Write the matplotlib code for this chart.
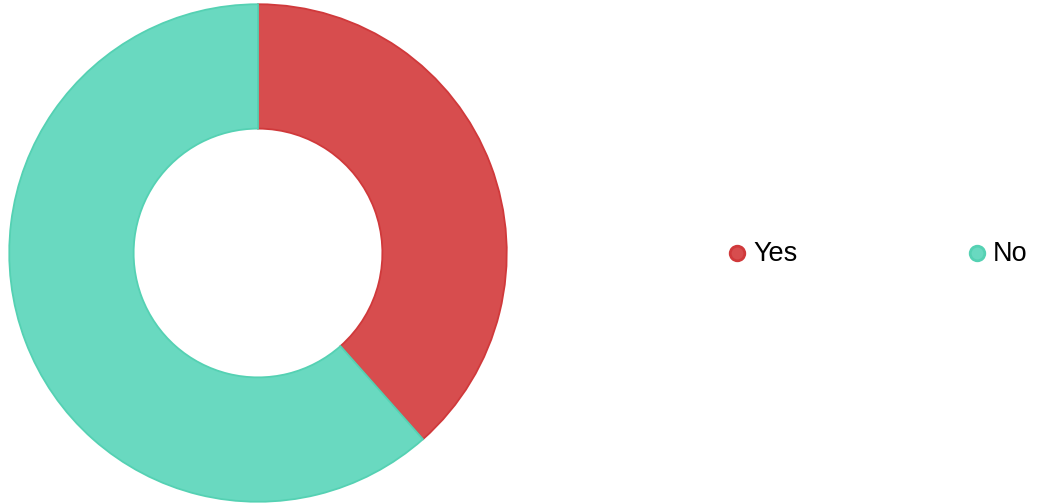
import matplotlib.pyplot as plt
from matplotlib.lines import Line2D

# donut data
labels = ["Yes", "No"]
values = [5, 8]
fill_colors = ["#d74d4e", "#69d9c0"]
edge_colors = ["#d0393b", "#55d1b3"]

W, H = 1037, 504
fig = plt.figure(figsize=(W / 100, H / 100), dpi=100)

# pie axes, centre about (258, 253) px, radius ~249 px
cx, cy, r = 258, 253, 250
ax = fig.add_axes([(cx - r) / W, (H - cy - r) / H, 2 * r / W, 2 * r / H])
wedges, _ = ax.pie(values, colors=fill_colors, startangle=90, counterclock=False,
                   radius=1, wedgeprops=dict(width=0.5, linewidth=1.3))
for w, ec in zip(wedges, edge_colors):
    w.set_edgecolor(ec)
ax.set_xlim(-1.005, 1.005)
ax.set_ylim(-1.005, 1.005)
ax.set_aspect("equal")
ax.axis("off")

# legend, drawn by hand so the two items sit far apart
leg_x = [737, 977]
for lab, fc, ec, x in zip(labels, fill_colors, edge_colors, leg_x):
    fig.add_artist(Line2D([x / W], [(H - 253) / H], marker="o", markersize=10.5,
                          markerfacecolor=fc, markeredgecolor=ec, markeredgewidth=2,
                          linestyle="none", transform=fig.transFigure))
    fig.text((x + 16) / W, (H - 254) / H, lab, fontsize=19.5, family="Liberation Sans",
             va="center", ha="left", color="black")

fig.savefig("out.png", dpi=100)
